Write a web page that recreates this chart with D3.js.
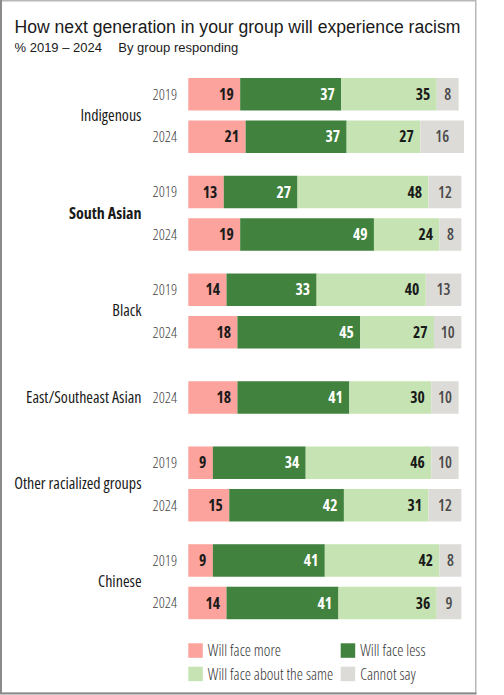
<!DOCTYPE html>
<html>
<head>
<meta charset="utf-8">
<script src="https://cdn.jsdelivr.net/npm/d3@7"></script>
<style>
  html, body { margin: 0; padding: 0; background: #fff; }
  svg { display: block; }
  .cond { font-family: 'Open Sans', sans-serif; font-stretch: condensed; }
</style>
</head>
<body>
<svg id="chart" width="504" height="695"></svg>
<script>
// ---------- data ----------
const groups = ["Indigenous", "South Asian", "Black", "East/Southeast Asian", "Other racialized groups", "Chinese"];
const highlightGroups = ["South Asian"];
const rowGroup = ["Indigenous", "Indigenous", "South Asian", "South Asian", "Black", "Black",
                  "East/Southeast Asian", "Other racialized groups", "Other racialized groups", "Chinese", "Chinese"];
const rowYear  = ["2019", "2024", "2019", "2024", "2019", "2024", "2024", "2019", "2024", "2019", "2024"];
const seriesNames = ["Will face more", "Will face less", "Will face about the same", "Cannot say"];
const faceMore   = [19, 21, 13, 19, 14, 18, 18,  9, 15,  9, 14];
const faceLess   = [37, 37, 27, 49, 33, 45, 41, 34, 42, 41, 41];
const aboutSame  = [35, 27, 48, 24, 40, 27, 30, 46, 31, 42, 36];
const cannotSay  = [ 8, 16, 12,  8, 13, 10, 10, 10, 12,  8,  9];
const title = "How next generation in your group will experience racism";
const subtitleA = "% 2019 \u2013 2024";
const subtitleB = "By group responding";

// ---------- styles ----------
const colors = ["#fba39c", "#41823e", "#c6e4b3", "#dddbd7"];
const labelColors = ["#1a1a1a", "#ffffff", "#1a1a1a", "#4a4a4a"];
const sans = "'Liberation Sans', Arial, sans-serif";

const svg = d3.select("#chart");

// frame
svg.append("rect").attr("x", 0.75).attr("y", 0.75).attr("width", 475).attr("height", 692.5)
  .attr("fill", "#fff").attr("stroke", "#b8b8b8").attr("stroke-width", 1.5);
svg.append("line").attr("x1", 1).attr("x2", 1).attr("y1", 0).attr("y2", 694)
  .attr("stroke", "#8a8a8a").attr("stroke-width", 2);
svg.append("line").attr("x1", 0).attr("x2", 476.5).attr("y1", 693.5).attr("y2", 693.5)
  .attr("stroke", "#8a8a8a").attr("stroke-width", 2);

// title
svg.append("text").attr("x", 14.5).attr("y", 33.3)
  .attr("font-family", sans).attr("font-size", 17.6).attr("fill", "#1a1a1a").text(title);
svg.append("text").attr("x", 14.5).attr("y", 52)
  .attr("font-family", sans).attr("font-size", 13).attr("fill", "#1a1a1a").text(subtitleA);
svg.append("text").attr("x", 118.3).attr("y", 52)
  .attr("font-family", sans).attr("font-size", 13).attr("fill", "#1a1a1a").text(subtitleB);

// ---------- layout (row positions in abstract units) ----------
const groupGap = 0.3, singlePad = 0.235;
const rows = [];
let cursor = 0;
groups.forEach((g, gi) => {
  const idx = rowGroup.map((rg, i) => rg === g ? i : -1).filter(i => i >= 0);
  if (gi > 0) cursor += groupGap;
  if (idx.length === 1) cursor += singlePad;
  idx.forEach((i, k) => {
    if (k > 0) cursor += 1;
    rows[i] = cursor;
  });
  if (idx.length === 1) cursor += singlePad;
  cursor += 1;
});
const lastRowPos = d3.max(rows);
const rowStepPx = 42.5, barH = 32.5;
const y = d3.scaleLinear().domain([0, lastRowPos]).range([78, 78 + lastRowPos * rowStepPx]);
const x = d3.scaleLinear().domain([0, 100]).range([188.3, 461.3]);

const series = [faceMore, faceLess, aboutSame, cannotSay];
const table = rowGroup.map((g, i) => {
  const vals = series.map(s => s[i]);
  let acc = 0;
  const segs = vals.map((v, k) => { const s = { k, v, x0: acc, x1: acc + v, row: i }; acc += v; return s; });
  return { group: g, year: rowYear[i], segs, pos: rows[i] };
});

// bars
const rowG = svg.selectAll("g.row").data(table).join("g").attr("class", "row")
  .attr("transform", d => `translate(0,${y(d.pos)})`);

rowG.selectAll("rect").data(d => d.segs).join("rect")
  .attr("x", s => x(s.x0)).attr("width", s => x(s.x1) - x(s.x0))
  .attr("y", 0).attr("height", barH)
  .attr("fill", s => colors[s.k]);

rowG.selectAll("text.val").data(d => d.segs).join("text").attr("class", "val cond")
  .attr("x", s => s.k === 3 ? (x(s.x0) + x(s.x1)) / 2 : x(s.x1) - 6.5)
  .attr("y", barH / 2).attr("dy", "0.36em")
  .attr("text-anchor", s => s.k === 3 ? "middle" : "end")
  .style("font-weight", s => s.k === 3 ? 600 : 700).attr("font-size", 15.5)
  .attr("fill", s => labelColors[s.k]).text(s => s.v);

// year labels
rowG.append("text").attr("class", "cond").attr("x", 177).attr("y", barH / 2).attr("dy", "0.36em")
  .attr("text-anchor", "end").attr("font-size", 15).style("font-weight", 300)
  .attr("fill", "#444").text(d => d.year);

// group labels
groups.forEach(g => {
  const ps = table.filter(t => t.group === g).map(t => t.pos);
  const cy = (y(d3.min(ps)) + y(d3.max(ps)) + barH) / 2;
  svg.append("text").attr("class", "cond").attr("x", 141.5).attr("y", cy).attr("dy", "0.33em")
    .attr("text-anchor", "end").attr("font-size", 16)
    .style("font-weight", highlightGroups.includes(g) ? 700 : 400)
    .attr("fill", "#1a1a1a").text(g);
});

// legend
const legendCols = [188.3, 340.7], legendRows = [643.3, 666.7], sw = 14.5;
const legendOrder = [0, 1, 2, 3];
const lg = svg.selectAll("g.leg").data(legendOrder).join("g").attr("class", "leg")
  .attr("transform", (k, i) => `translate(${legendCols[i % 2]},${legendRows[Math.floor(i / 2)]})`);
lg.append("rect").attr("width", sw).attr("height", sw).attr("fill", k => colors[k]);
lg.append("text").attr("class", "cond").attr("x", sw + 5).attr("y", sw / 2).attr("dy", "0.36em")
  .attr("font-size", 15.7).style("font-weight", 300).attr("fill", "#333")
  .text(k => seriesNames[k]);
</script>
</body>
</html>
